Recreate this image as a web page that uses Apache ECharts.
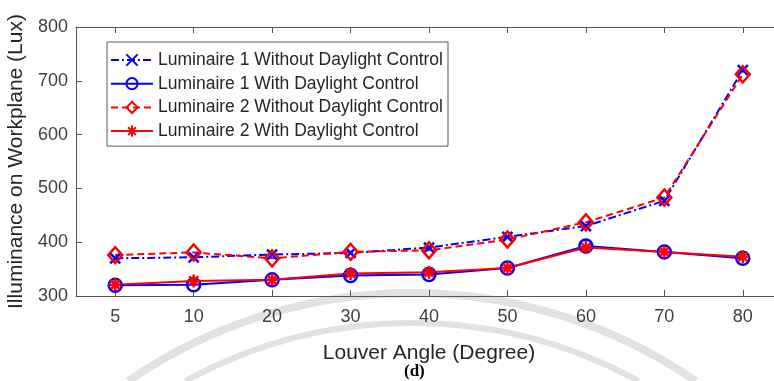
<!DOCTYPE html>
<html>
<head>
<meta charset="utf-8">
<script src="https://cdn.jsdelivr.net/npm/echarts@6/dist/echarts.min.js"></script>
<style>
html,body{margin:0;padding:0;background:#fff;}
#chart{width:774px;height:381px;}
</style>
</head>
<body>
<div id="chart"></div>
<script>
var categories = ['5', '10', '20', '30', '40', '50', '60', '70', '80'];
var lum1NoCtrl = [370, 372, 377, 380, 390, 410, 430, 477, 720];
var lum1Ctrl   = [320, 321, 330, 338, 340, 352, 393, 382, 370];
var lum2NoCtrl = [376, 381, 370, 382, 385, 405, 437, 483, 712];
var lum2Ctrl   = [321, 328, 330, 342, 344, 352, 390, 382, 373];
var seriesNames = [
  'Luminaire 1 Without Daylight Control',
  'Luminaire 1 With Daylight Control',
  'Luminaire 2 Without Daylight Control',
  'Luminaire 2 With Daylight Control'
];
var yMin = 300, yMax = 800, yStep = 100;

var BLUE = '#0000ff', RED = '#ff0000';
var FONT = '"Liberation Sans", Arial, Helvetica, sans-serif';
var xSym = 'path://M0,0L10,10M10,0L0,10';
var starSym = 'path://M5,0L5,10M0,5L10,5M1.5,1.5L8.5,8.5M8.5,1.5L1.5,8.5';

var chart = echarts.init(document.getElementById('chart'), null, {renderer: 'canvas'});

var cx = 412, cy = 794;
function arcEl(r, w) {
  var dy = 381 - cy;
  var dx = Math.sqrt(r * r - dy * dy);
  return {
    type: 'arc', z: -10, silent: true,
    shape: {cx: cx, cy: cy, r: r, startAngle: Math.atan2(dy, -dx), endAngle: Math.atan2(dy, dx), clockwise: true},
    style: {stroke: '#e2e2e2', lineWidth: w, fill: null}
  };
}

var option = {
  backgroundColor: '#ffffff',
  animation: false,
  textStyle: {fontFamily: FONT},
  grid: {left: 76, top: 27, width: 706, height: 269, containLabel: false, outerBoundsMode: 'none'},
  graphic: [
    arcEl(501, 8),
    arcEl(471, 6),
    {
      type: 'text', left: 404, top: 363, z: 10,
      style: {text: '(d)', font: 'bold 17px "Liberation Serif", "Times New Roman", serif', fill: '#000'}
    }
  ],
  legend: {
    orient: 'vertical',
    left: 107, top: 42,
    padding: [9, 5, 6, 3],
    itemWidth: 42, itemHeight: 14, itemGap: 5.7,
    itemTextGap: 4,
    backgroundColor: '#ffffff',
    borderColor: '#5a5a5a', borderWidth: 1,
    textStyle: {fontFamily: FONT, fontSize: 17.5, color: '#262626'},
    data: seriesNames
  },
  xAxis: [{
    type: 'category',
    data: categories,
    boundaryGap: true,
    position: 'bottom',
    name: 'Louver Angle (Degree)',
    nameLocation: 'middle',
    nameGap: 47,
    nameTextStyle: {fontFamily: FONT, fontSize: 21, color: '#262626'},
    axisLine: {show: true, lineStyle: {color: '#555', width: 1}},
    axisTick: {show: true, inside: true, alignWithLabel: true, length: 6, lineStyle: {color: '#555'}},
    axisLabel: {fontFamily: FONT, fontSize: 18, color: '#404040', margin: 12},
    splitLine: {show: false}
  }, {
    type: 'category',
    data: categories,
    boundaryGap: true,
    position: 'top',
    axisLine: {show: true, lineStyle: {color: '#555', width: 1}},
    axisTick: {show: true, inside: true, alignWithLabel: true, length: 6, lineStyle: {color: '#555'}},
    axisLabel: {show: false},
    splitLine: {show: false}
  }],
  yAxis: {
    type: 'value',
    min: yMin, max: yMax, interval: yStep,
    name: 'Illuminance on Workplane (Lux)',
    nameLocation: 'middle',
    nameGap: 47,
    nameTextStyle: {fontFamily: FONT, fontSize: 21, color: '#262626'},
    axisLine: {show: true, lineStyle: {color: '#555', width: 1}},
    axisTick: {show: true, inside: true, length: 6, lineStyle: {color: '#555'}},
    axisLabel: {fontFamily: FONT, fontSize: 18, color: '#404040', margin: 8},
    splitLine: {show: false}
  },
  series: [
    {
      name: seriesNames[0], type: 'line', data: lum1NoCtrl,
      symbol: xSym, symbolSize: 10,
      lineStyle: {color: BLUE, width: 2, type: [8, 3, 2, 3]},
      itemStyle: {color: BLUE, borderColor: BLUE, borderWidth: 2.5}
    },
    {
      name: seriesNames[1], type: 'line', data: lum1Ctrl,
      symbol: 'circle', symbolSize: 13,
      lineStyle: {color: BLUE, width: 2, type: 'solid'},
      itemStyle: {color: 'rgba(0,0,0,0)', borderColor: BLUE, borderWidth: 2.5}
    },
    {
      name: seriesNames[2], type: 'line', data: lum2NoCtrl,
      symbol: 'diamond', symbolSize: [14, 16],
      lineStyle: {color: RED, width: 2, type: [7, 4]},
      itemStyle: {color: 'rgba(0,0,0,0)', borderColor: RED, borderWidth: 2.5}
    },
    {
      name: seriesNames[3], type: 'line', data: lum2Ctrl,
      symbol: starSym, symbolSize: 13,
      lineStyle: {color: RED, width: 2, type: 'solid'},
      itemStyle: {color: RED, borderColor: RED, borderWidth: 2.5}
    }
  ]
};
chart.setOption(option);
</script>
</body>
</html>
